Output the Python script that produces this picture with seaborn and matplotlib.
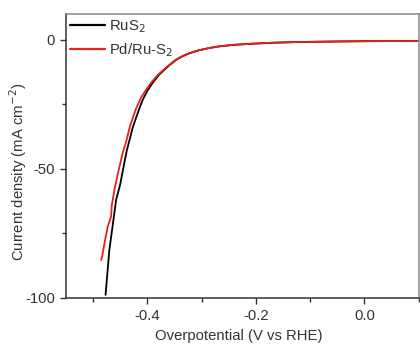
import numpy as np
import pandas as pd
import matplotlib
matplotlib.use("Agg")
import matplotlib.pyplot as plt
import seaborn as sns
from matplotlib.ticker import MultipleLocator
from matplotlib.lines import Line2D

ru_x = [-0.477, -0.470, -0.4575, -0.450, -0.445, -0.438, -0.433, -0.427, -0.415, -0.4086,
        -0.400, -0.390, -0.378, -0.360, -0.347, -0.335, -0.323, -0.305, -0.285, -0.268,
        -0.240, -0.210, -0.170, -0.120, -0.050, 0.000, 0.100]
ru_y = [-98.8, -81.4, -62.0, -56.0, -50.5, -43.0, -39.0, -34.0, -26.8, -23.3,
        -19.8, -16.6, -13.5, -10.0, -7.8, -6.4, -5.3, -4.1, -3.2, -2.6,
        -2.0, -1.6, -1.2, -0.9, -0.7, -0.6, -0.5]

pd_x = [-0.485, -0.483, -0.479, -0.475, -0.473, -0.4668, -0.4655, -0.4637, -0.4606, -0.4545,
        -0.445, -0.439, -0.432, -0.421, -0.412, -0.403, -0.392, -0.380, -0.361, -0.348,
        -0.336, -0.324, -0.305, -0.285, -0.268, -0.240, -0.210, -0.170, -0.120, -0.050,
        0.000, 0.100]
pd_y = [-85.3, -83.5, -78.8, -74.5, -72.4, -68.5, -64.0, -62.0, -58.0, -52.0,
        -43.5, -39.5, -33.5, -26.8, -22.6, -19.6, -16.4, -13.5, -10.0, -7.8,
        -6.4, -5.3, -4.1, -3.2, -2.6, -2.0, -1.6, -1.2, -0.9, -0.7,
        -0.6, -0.5]

labels = ["RuS$_2$", "Pd/Ru-S$_2$"]
colors = ["#000000", "#e8201e"]

df = pd.concat([
    pd.DataFrame({"x": ru_x, "y": ru_y, "s": labels[0]}),
    pd.DataFrame({"x": pd_x, "y": pd_y, "s": labels[1]}),
])

sns.set_style("ticks")
plt.rcParams["font.family"] = ["Liberation Sans", "DejaVu Sans"]

fig = plt.figure(figsize=(4.2, 3.46), dpi=100)
ax = fig.add_axes([0.157, 0.139, 0.84, 0.821])

sns.lineplot(data=df, x="x", y="y", hue="s", palette=dict(zip(labels, colors)),
             sort=False, estimator=None, lw=1.3, ax=ax, legend=False)

fs = 10.7
ax.set_xlim(-0.55, 0.1)
ax.set_ylim(-100, 10)
ax.xaxis.set_minor_locator(MultipleLocator(0.1))
ax.yaxis.set_minor_locator(MultipleLocator(25))
ax.set_xticks([-0.4, -0.2, 0.0])
ax.set_xticklabels(["-0.4", "-0.2", "0.0"])
ax.set_yticks([-100, -50, 0])
ax.set_yticklabels(["-100", "-50", "0"])
ax.tick_params(which="major", direction="out", length=4, width=1, labelsize=fs,
               colors="#333333", labelcolor="#333333", pad=4)
ax.tick_params(which="minor", direction="out", length=3, width=1, colors="#333333")

for side in ["left", "bottom"]:
    ax.spines[side].set_color("#333333")
    ax.spines[side].set_linewidth(1.1)
for side in ["top", "right"]:
    ax.spines[side].set_visible(True)
    ax.spines[side].set_color("#888888")
    ax.spines[side].set_linewidth(1.1)

ax.set_xlabel("Overpotential (V vs RHE)", fontsize=fs, color="#333333")
ax.set_ylabel("Current density (mA cm$^{-2}$)", fontsize=fs, color="#333333")
ax.xaxis.set_label_coords(0.49, -0.11)
ax.yaxis.set_label_coords(-0.105, 0.444)

handles = [Line2D([], [], color=c, lw=1.6) for c in colors]
ax.legend(handles, labels, loc="upper left", frameon=False, fontsize=fs,
          handlelength=2.3, handletextpad=0.3, labelspacing=0.45,
          borderaxespad=0.1, borderpad=0.2, labelcolor="#333333")

fig.savefig("out.png", dpi=100)
